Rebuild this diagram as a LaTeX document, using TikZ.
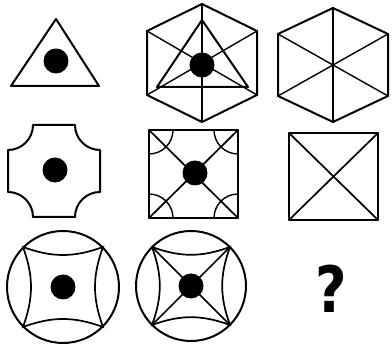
\documentclass[tikz,border=0pt]{standalone}
\usepackage{fontspec}
\usepackage{tikz}
\newfontfamily\askfont{DejaVu Sans}
\tikzset{
  % ---- outlines -------------------------------------------------------
  fig/.style={draw=black, line width=2pt, line join=round},
  figmid/.style={draw=black, line width=1.7pt, line cap=round},
  figin/.style={draw=black, line width=1.4pt, line cap=round},
  % ---- marks ----------------------------------------------------------
  blob/.style={fill=black},
  ask/.style={font=\askfont\bfseries\fontsize{64}{64}\selectfont, inner sep=0pt,
              xscale=0.85},
}

\begin{document}
\begin{tikzpicture}[x=1pt, y=1pt]

\def\dotr{12.5}    % radius of the centre dot
\def\cnr{24}       % radius of the corner arcs

\useasboundingbox (0,0) rectangle (392,344);

% ---- row 1: triangle, hexagon with triangle, hexagon -----------------
\draw[fig] (56,325) -- (99,258) -- (11,258) -- cycle;
\fill[blob] (56,283) circle (\dotr);

\begin{scope}[shift={(202,281)}]
  \foreach \x/\y in {0/59, 55/32, 55/-32, 0/-59, -55/-32, -55/32}{
    \draw[figin] (0,0) -- (\x,\y);
  }
  \draw[fig] (0,59) -- (55,32) -- (55,-32) -- (0,-59) -- (-55,-32) -- (-55,32) -- cycle;
  \draw[fig] (0,43) -- (46,-24) -- (-45,-24) -- cycle;
  \fill[blob] (0,-2) circle (\dotr);
\end{scope}

\begin{scope}[shift={(333,279)}]
  \foreach \x/\y in {0/57, 55/31, 55/-31, 0/-57, -55/-31, -55/31}{
    \draw[figin] (0,0) -- (\x,\y);
  }
  \draw[fig] (0,57) -- (55,31) -- (55,-31) -- (0,-57) -- (-55,-31) -- (-55,31) -- cycle;
\end{scope}

% ---- row 2: notched square, square with corner arcs, square ----------
\draw[fig] (33,219) -- (75,219) arc[start angle=180, end angle=270, radius=25]
  -- (100,152) arc[start angle=90, end angle=180, radius=25]
  -- (33,127) arc[start angle=0, end angle=90, radius=25]
  -- (8,194) arc[start angle=270, end angle=360, radius=25] -- cycle;
\fill[blob] (55,174) circle (\dotr);

\draw[figmid] (149,126) -- (238,214) (149,214) -- (238,126);
\foreach \cx/\cy/\a in {149/214/270, 238/214/180, 238/126/90, 149/126/0}{
  \draw[figin] (\cx,\cy) ++(\a:\cnr) arc[start angle=\a, end angle=\a+90, radius=\cnr];
}
\draw[fig] (149,126) rectangle (238,214);
\fill[blob] (195,171) circle (\dotr);

\draw[figmid] (289,124) -- (378,211) (289,211) -- (378,124);
\draw[fig] (289,124) rectangle (378,211);

% ---- row 3: circles with curved squares, question mark ---------------
\begin{scope}[shift={(63,57)}]
  \draw[figmid] (-40,40) to[bend right=20] (40,40) to[bend right=20] (40,-40)
    to[bend right=20] (-40,-40) to[bend right=20] (-40,40);
  \draw[fig] (0,0) circle (56);
  \fill[blob] (0,0) circle (\dotr);
\end{scope}

\begin{scope}[shift={(191,58)}]
  \draw[figmid] (-39,39) to[bend right=20] (39,39) to[bend right=20] (39,-39)
    to[bend right=20] (-39,-39) to[bend right=20] (-39,39);
  \draw[figmid] (-39,39) -- (39,-39) (39,39) -- (-39,-39);
  \draw[fig] (0,0) circle (55);
  \fill[blob] (0,0) circle (\dotr);
\end{scope}

\node[ask] (qmark) at (331,55) {?};

\end{tikzpicture}
\end{document}
